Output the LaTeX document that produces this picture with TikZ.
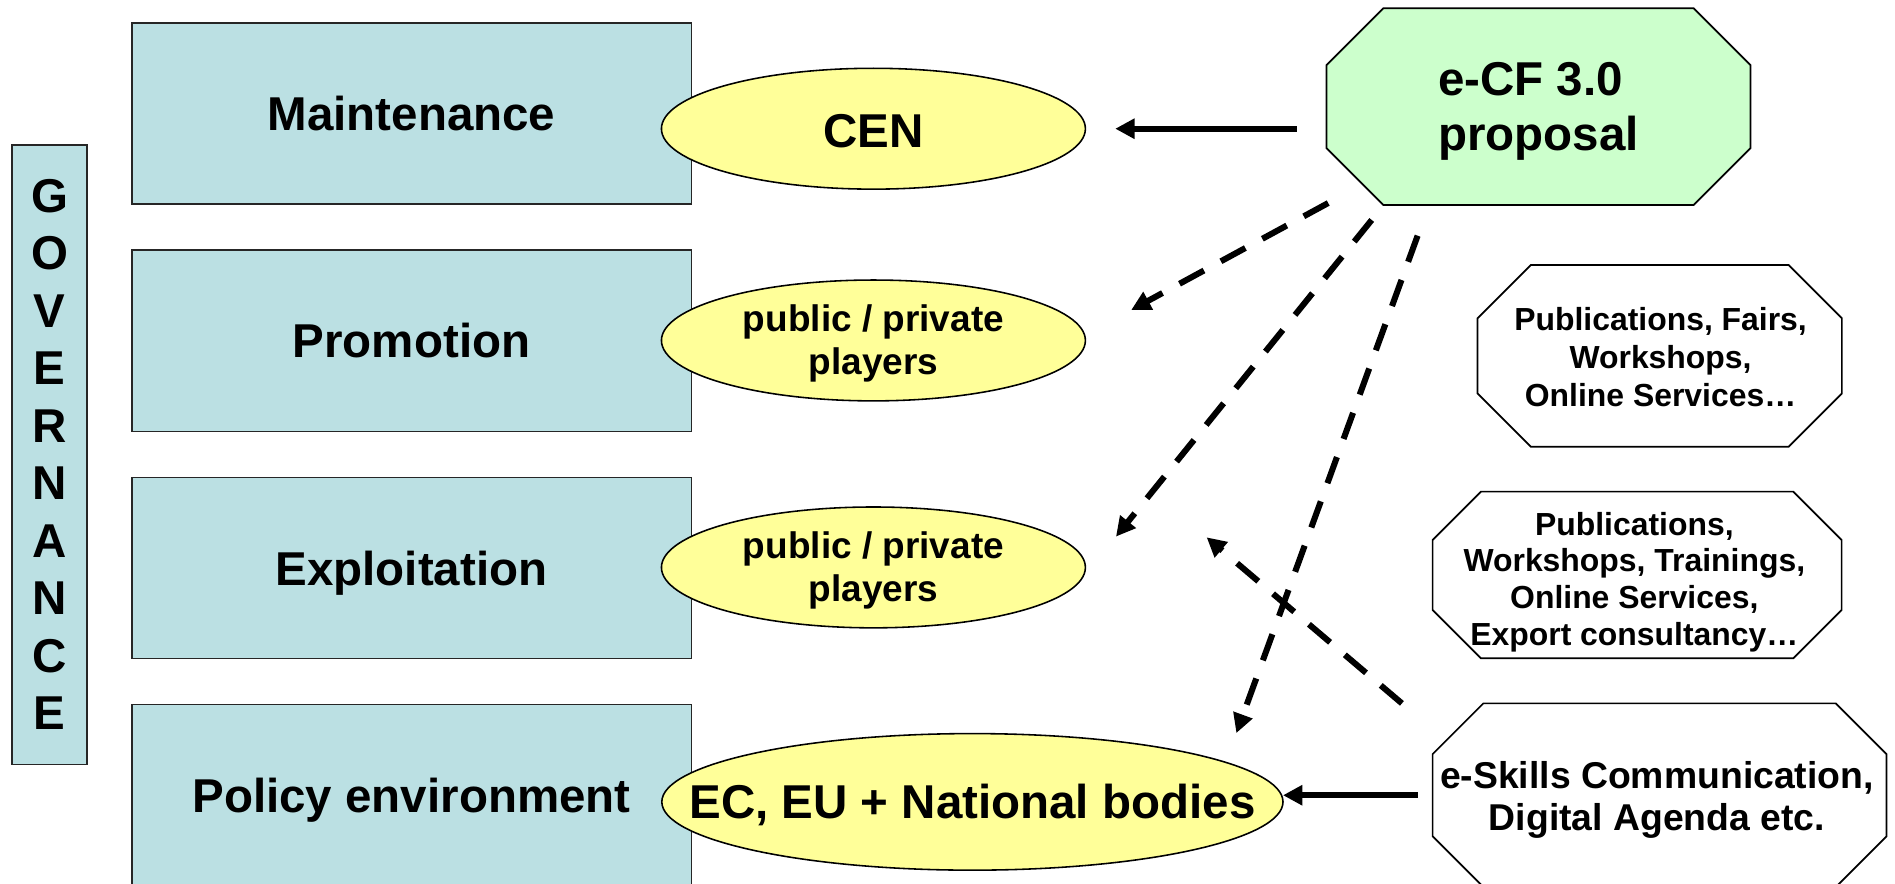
\documentclass[tikz,border=0pt]{standalone}
\usepackage{fontspec}
\setmainfont{Liberation Sans}
\usetikzlibrary{arrows.meta,shapes.geometric}
\definecolor{boxblue}{RGB}{187,224,227}
\definecolor{ellyel}{RGB}{255,255,153}
\definecolor{ecfgreen}{RGB}{204,255,204}
\newcommand\setfs[2]{\fontsize{#1pt}{#2pt}\selectfont\bfseries}
\newcommand\drawoctagon[3][white]{\draw[line width=1.4pt, fill=#1]
  ([xshift=#3]#2.north west) -- ([xshift=-#3]#2.north east) --
  ([yshift=-#3]#2.north east) -- ([yshift=#3]#2.south east) --
  ([xshift=-#3]#2.south east) -- ([xshift=#3]#2.south west) --
  ([yshift=#3]#2.south west) -- ([yshift=-#3]#2.north west) -- cycle;}
\begin{document}
\begin{tikzpicture}[x=1pt,y=-1pt,
  bluebox/.style={rectangle, draw=black!85, line width=1.3pt, fill=boxblue, inner sep=0pt,
    minimum width=463pt, minimum height=150pt, text height=28.1pt, text depth=0pt,
    font=\setfs{39.3}{47}},
  govbox/.style={rectangle, draw=black!85, line width=1.3pt, fill=boxblue, inner sep=0pt,
    align=center, font=\setfs{39.3}{47.55}},
  ell/.style={ellipse, draw=black, line width=1.3pt, fill=ellyel, inner sep=0pt, outer sep=0pt},
  octbox/.style={rectangle, draw=none, inner sep=0pt, outer sep=0pt},
  lbl/.style={inner sep=0pt, align=center},
  solidarrow/.style={line width=5pt, -{Triangle[length=16pt,width=16pt]}},
  dasharrow/.style={solidarrow, dash pattern=on 23pt off 16pt}]
\useasboundingbox (0,0) rectangle (1568,731);
\clip (0,0) rectangle (1568,731);

% GOVERNANCE bar
\node[govbox, minimum width=62pt, minimum height=512.6pt] (gov) at (41,376.1)
  {G\\O\\V\\E\\R\\N\\A\\N\\C\\E};

% left boxes
\node[bluebox] (maint) at (340.5,94) {Maintenance};
\node[bluebox] (promo) at (340.5,282) {Promotion};
\node[bluebox] (explo) at (340.5,470) {Exploitation};
\node[bluebox] (policy) at (340.5,658) {Policy environment};

% ellipses
\node[ell, minimum width=350.8pt, minimum height=100pt] (cen) at (722.7,106.5) {};
\node[ell, minimum width=350.8pt, minimum height=100pt] (pp1) at (722.7,281.7) {};
\node[ell, minimum width=350.8pt, minimum height=100pt] (pp2) at (722.7,469.5) {};
\node[ell, minimum width=514pt, minimum height=113pt] (ec) at (804.6,663.5) {};
\node[lbl, font=\setfs{39.3}{45}] (centext) at (722.7,108.8) {CEN};
\node[lbl, font=\setfs{30.6}{35.2}] (pp1text) at (722.7,284.1) {public / private\\players};
\node[lbl, font=\setfs{30.6}{35.2}] (pp2text) at (722.7,471.9) {public / private\\players};
\node[lbl, font=\setfs{39.3}{45}] (ectext) at (804.6,666) {EC, EU + National bodies};

% octagons
\node[octbox, minimum width=350.8pt, minimum height=162.7pt] (ecf) at (1273,88.25) {};
\drawoctagon[ecfgreen]{ecf}{47pt}
\node[octbox, minimum width=301.4pt, minimum height=150.3pt] (pub1) at (1373.3,294.45) {};
\drawoctagon{pub1}{44pt}
\node[octbox, minimum width=338.4pt, minimum height=137.9pt] (pub2) at (1354.6,475.75) {};
\drawoctagon{pub2}{40pt}
\node[octbox, minimum width=375.6pt, minimum height=152pt] (esk) at (1373.2,658) {};
\drawoctagon{esk}{42pt}

\node[inner sep=0pt, align=left, font=\setfs{39.3}{45.5}] (ecftext) at (1273,92.5) {e-CF 3.0\\proposal};
\node[lbl, font=\setfs{26.4}{31.5}] (pub1text) at (1374,295.2)
  {Publications, Fairs,\\Workshops,\\Online Services…};
\node[lbl, font=\setfs{26.4}{30.3}] (pub2text) at (1352.3,481.5)
  {Publications,\\Workshops, Trainings,\\Online Services,\\Export consultancy…};
\node[lbl, font=\setfs{30.9}{35.3}] (esktext) at (1371,661.9)
  {e-Skills Communication,\\Digital Agenda etc.};

% solid arrows
\draw[solidarrow, shorten <=24.6pt, shorten >=24.7pt] (ecf.west |- cen.east) -- (cen.east);
\draw[solidarrow, shorten <=12.4pt] (esk.west) -- (esk.west -| ec.east);

% dashed arrows
\coordinate (d1s) at (1099,168);   \coordinate (d1e) at (936,256.5);
\coordinate (d2s) at (1135,182);   \coordinate (d2e) at (923.4,444);
\coordinate (d3s) at (1173,195);   \coordinate (d3e) at (1023,606.6);
\coordinate (d4s) at (1160,582);   \coordinate (d4e) at (998.4,444.6);
\draw[dasharrow] (d1s) -- (d1e);
\draw[dasharrow] (d2s) -- (d2e);
\draw[dasharrow] (d3s) -- (d3e);
\draw[dasharrow] (d4s) -- (d4e);
\end{tikzpicture}
\end{document}
